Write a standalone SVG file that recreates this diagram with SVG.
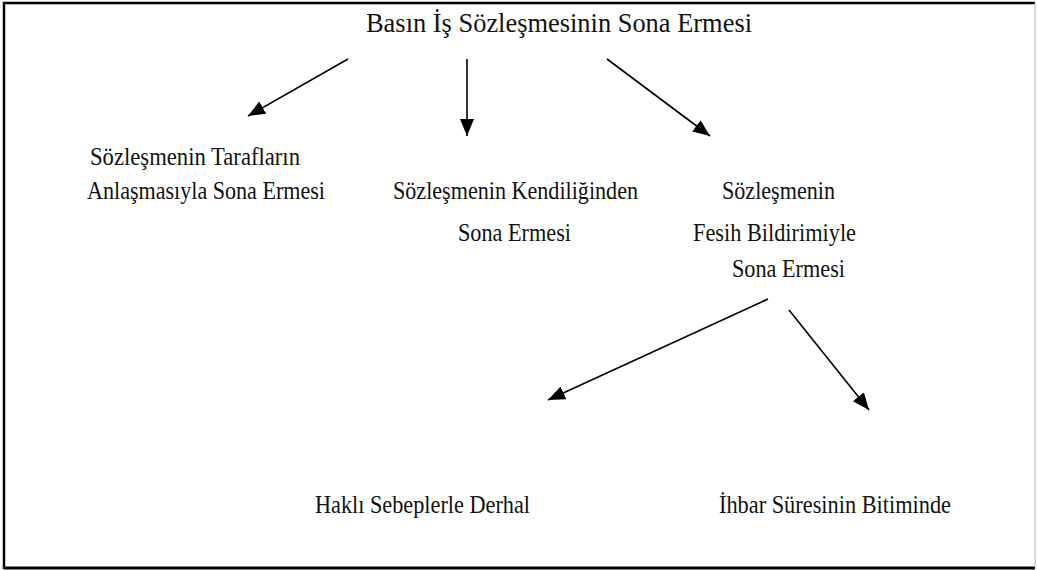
<svg xmlns="http://www.w3.org/2000/svg" width="1037" height="570" viewBox="0 0 1037 570">
<defs>
<marker id="ah" markerUnits="userSpaceOnUse" markerWidth="17" markerHeight="14" refX="17" refY="7" orient="auto">
<path d="M0,0 L17,7 L0,14 Z" fill="#000"/>
</marker>
<style>
text{font-family:"Liberation Serif","Times New Roman",serif;font-size:25px;fill:#111}
.t{font-size:28px}
.c{stroke:#000;stroke-width:1.6;fill:none;marker-end:url(#ah)}
</style>
</defs>
<rect width="1037" height="570" fill="#fff"/>
<path d="M4,569 L4,3 L1035,3" fill="none" stroke="#000" stroke-width="2.5"/>
<path d="M4,568 L1035,568" fill="none" stroke="#000" stroke-width="3"/>
<path d="M1035,3 L1035,567" fill="none" stroke="#bbb" stroke-width="1"/>
<g id="root"><text class="t" x="366" y="32" textLength="386" lengthAdjust="spacingAndGlyphs">Basın İş Sözleşmesinin Sona Ermesi</text></g>
<g id="n1"><text x="90" y="165" textLength="210" lengthAdjust="spacingAndGlyphs">Sözleşmenin Tarafların</text><text x="87" y="199" textLength="238" lengthAdjust="spacingAndGlyphs">Anlaşmasıyla Sona Ermesi</text></g>
<g id="n2"><text x="393" y="199" textLength="245" lengthAdjust="spacingAndGlyphs">Sözleşmenin Kendiliğinden</text><text x="458" y="241" textLength="113" lengthAdjust="spacingAndGlyphs">Sona Ermesi</text></g>
<g id="n3"><text x="722" y="199" textLength="113" lengthAdjust="spacingAndGlyphs">Sözleşmenin</text><text x="693" y="241" textLength="163" lengthAdjust="spacingAndGlyphs">Fesih Bildirimiyle</text><text x="732" y="277" textLength="113" lengthAdjust="spacingAndGlyphs">Sona Ermesi</text></g>
<g id="n4"><text x="315" y="513" textLength="215" lengthAdjust="spacingAndGlyphs">Haklı Sebeplerle Derhal</text></g>
<g id="n5"><text x="719" y="513" textLength="232" lengthAdjust="spacingAndGlyphs">İhbar Süresinin Bitiminde</text></g>
<g id="connectors">
<line class="c" x1="348" y1="59" x2="248" y2="116"/>
<line class="c" x1="467" y1="59" x2="467" y2="136"/>
<line class="c" x1="607" y1="59" x2="710" y2="136"/>
<line class="c" x1="768" y1="299" x2="548" y2="400"/>
<line class="c" x1="789" y1="310" x2="869" y2="410"/>
</g>
</svg>
